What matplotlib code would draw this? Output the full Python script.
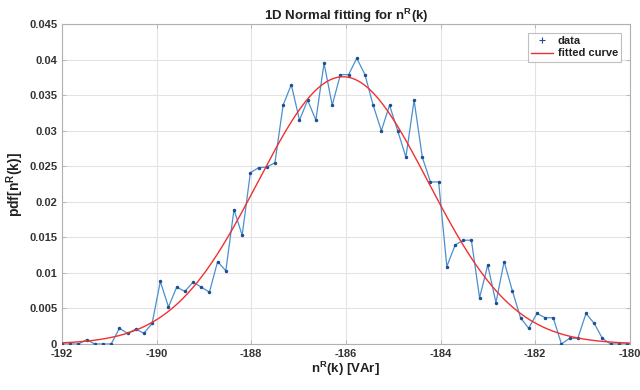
import numpy as np
import matplotlib
matplotlib.use("Agg")
import matplotlib.pyplot as plt
from matplotlib.lines import Line2D

# ---- data ----
x_start = -192.0
x_end = -180.06
pdf_values = [
    0.0, 0.0, 0.0, 0.0006, 0.0, 0.0, 0.0, 0.0022, 0.0015, 0.0021,
    0.0015, 0.0029, 0.0088, 0.0052, 0.0080, 0.0074, 0.0087, 0.0080, 0.0073, 0.0116,
    0.0103, 0.0189, 0.0153, 0.0241, 0.0248, 0.0249, 0.0255, 0.0336, 0.0365, 0.0315,
    0.0343, 0.0315, 0.0395, 0.0336, 0.0379, 0.0379, 0.0402, 0.0379, 0.0336, 0.0300,
    0.0336, 0.0300, 0.0263, 0.0343, 0.0263, 0.0228, 0.0228, 0.0109, 0.0139, 0.0146,
    0.0146, 0.0065, 0.0111, 0.0058, 0.0116, 0.0075, 0.0037, 0.0022, 0.0043, 0.0037,
    0.0037, 0.0, 0.0008, 0.0008, 0.0043, 0.0029, 0.0008, 0.0, 0.0, 0.0,
]
x_values = np.linspace(x_start, x_end, len(pdf_values))

# fitted normal curve parameters
fit_mu = -186.06
fit_sigma = 1.8
fit_peak = 0.0376

xticks = [-192, -190, -188, -186, -184, -182, -180]
yticks = [0, 0.005, 0.01, 0.015, 0.02, 0.025, 0.03, 0.035, 0.04, 0.045]
ytick_labels = ["0", "0.005", "0.01", "0.015", "0.02", "0.025", "0.03", "0.035", "0.04", "0.045"]

plt.rcParams['font.family'] = ['Liberation Sans', 'DejaVu Sans']

fig = plt.figure(figsize=(6.4, 3.9), dpi=100)
ax = fig.add_axes([0.097, 0.118, 0.887, 0.820])

xf = np.linspace(-192, -180, 400)
yf = fit_peak * np.exp(-0.5 * ((xf - fit_mu) / fit_sigma) ** 2)

ax.plot(x_values, pdf_values, color='#4a90d0', lw=0.9, zorder=3)
ax.plot(x_values, pdf_values, ls='none', marker='.', ms=3, color='#1f4f8f', zorder=4)
ax.plot(xf, yf, color='#f03030', lw=1.0, zorder=5)

ax.set_xlim(-192, -180)
ax.set_ylim(0, 0.045)
ax.set_xticks(xticks)
ax.set_xticklabels([str(t) for t in xticks])
ax.set_yticks(yticks)
ax.set_yticklabels(ytick_labels)
ax.grid(True, color='#e3e3e3', lw=0.8)
ax.set_axisbelow(True)

for s in ax.spines.values():
    s.set_color('#b0b0b0')
    s.set_linewidth(0.8)
ax.tick_params(axis='both', labelsize=8, colors='#b0b0b0', labelcolor='#333333',
               direction='in', length=3, width=0.6, top=True, right=True)
for lbl in ax.get_xticklabels() + ax.get_yticklabels():
    lbl.set_fontweight('bold')

ax.set_title(r'1D Normal fitting for n$^{\mathregular{R}}$(k)', fontsize=9.5,
             fontweight='bold', color='#222222', pad=3)
ax.set_xlabel(r'n$^{\mathregular{R}}$(k) [VAr]', fontsize=9.5, fontweight='bold',
              color='#222222', labelpad=1)
ax.set_ylabel(r'pdf[n$^{\mathregular{R}}$(k)]', fontsize=10, fontweight='bold',
              color='#222222', labelpad=2)

handles = [Line2D([], [], ls='none', marker='+', ms=4, color='#1f4f8f', mew=0.8),
           Line2D([], [], color='#f03030', lw=1.0)]
leg = ax.legend(handles, ['data', 'fitted curve'], loc='upper right',
                bbox_to_anchor=(0.995, 0.99), fontsize=8, frameon=True,
                fancybox=False, edgecolor='#b0b0b0', handlelength=2.0,
                borderpad=0.3, labelspacing=0.2, handletextpad=0.4)
leg.get_frame().set_linewidth(0.8)
for t in leg.get_texts():
    t.set_fontweight('bold')
    t.set_color('#222222')

fig.savefig('out.png', dpi=100)
